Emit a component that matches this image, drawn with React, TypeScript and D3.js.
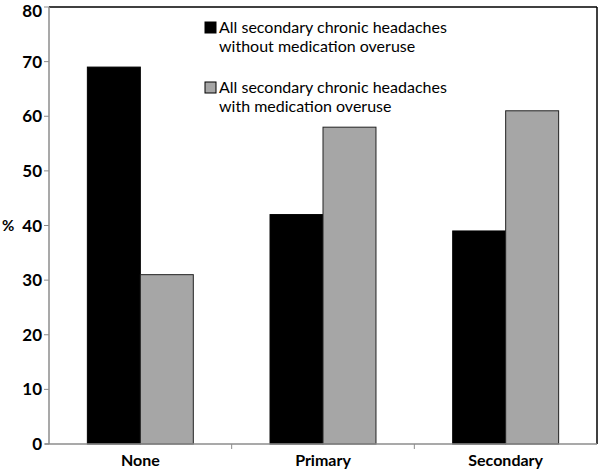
import { useMemo } from 'react';
import * as d3 from 'd3';

const categories = ['None', 'Primary', 'Secondary'];
const withoutOveruse = [69, 42, 39];
const withOveruse = [31, 58, 61];
const seriesLabels = [
  ['All secondary chronic headaches', 'without medication overuse'],
  ['All secondary chronic headaches', 'with medication overuse'],
];
const seriesColors = ['#000000', '#a6a6a6'];
const yTicks = [0, 10, 20, 30, 40, 50, 60, 70, 80];

const W = 600;
const H = 469;
const margin = { top: 7, right: 3, bottom: 25, left: 49 };

export default function App() {
  const { x, y } = useMemo(() => {
    const x = d3
      .scaleBand<string>()
      .domain(categories)
      .range([margin.left, W - margin.right])
      .paddingInner(0)
      .paddingOuter(0);
    const y = d3.scaleLinear().domain([0, 80]).range([H - margin.bottom, margin.top]);
    return { x, y };
  }, []);

  const bw = x.bandwidth() * 0.29;
  const font = 'Lato, "Open Sans", sans-serif';

  return (
    <svg
      width={W}
      height={H}
      style={{ display: 'block', position: 'absolute', left: 0, top: 0, background: '#fff' }}
    >
      {/* bars */}
      {categories.map((c, i) => {
        const cx = (x(c) ?? 0) + x.bandwidth() / 2;
        return (
          <g key={c}>
            <rect
              x={cx - bw}
              y={y(withoutOveruse[i])}
              width={bw}
              height={y(0) - y(withoutOveruse[i])}
              fill={seriesColors[0]}
              stroke="#000"
              strokeWidth={1}
            />
            <rect
              x={cx}
              y={y(withOveruse[i])}
              width={bw}
              height={y(0) - y(withOveruse[i])}
              fill={seriesColors[1]}
              stroke="#222"
              strokeWidth={1}
            />
          </g>
        );
      })}

      {/* frame: top + right black, left + bottom gray axes */}
      <line x1={margin.left} x2={W - margin.right} y1={y(80)} y2={y(80)} stroke="#000" strokeWidth={1.5} />
      <line x1={W - margin.right} x2={W - margin.right} y1={y(80)} y2={y(0)} stroke="#000" strokeWidth={1.5} />
      <line x1={margin.left} x2={margin.left} y1={y(80)} y2={y(0)} stroke="#8c8c8c" strokeWidth={1.5} />
      <line x1={margin.left - 4} x2={W - margin.right} y1={y(0)} y2={y(0)} stroke="#8c8c8c" strokeWidth={1.5} />

      {/* y ticks */}
      {yTicks.map((t) => (
        <g key={t}>
          <line x1={margin.left - 5} x2={margin.left} y1={y(t)} y2={y(t)} stroke="#8c8c8c" strokeWidth={1} />
          <text
            x={margin.left - 7}
            y={Math.max(y(t) + 6, 17)}
            textAnchor="end"
            fontFamily={font}
            fontWeight="bold"
            fontSize={17}
            fill="#000"
          >
            {t}
          </text>
        </g>
      ))}
      {categories.map((c, i) =>
        i === 0 ? null : (
          <line
            key={c}
            x1={x(c) ?? 0}
            x2={x(c) ?? 0}
            y1={y(0)}
            y2={y(0) + 5}
            stroke="#8c8c8c"
            strokeWidth={1}
          />
        ),
      )}
      <text x={2} y={y(40)} dy="0.35em" fontFamily={font} fontWeight="bold" fontSize={15} fill="#000">
        %
      </text>

      {/* x labels */}
      {categories.map((c) => (
        <text
          key={c}
          x={(x(c) ?? 0) + x.bandwidth() / 2}
          y={H - 3}
          textAnchor="middle"
          fontFamily={font}
          fontWeight="bold"
          fontSize={16}
          fill="#000"
        >
          {c}
        </text>
      ))}

      {/* legend */}
      {seriesLabels.map((lines, i) => (
        <g key={i} transform={`translate(205, ${22 + i * 60})`}>
          <rect x={0} y={0} width={11} height={11} fill={seriesColors[i]} stroke="#000" strokeWidth={1} />
          {lines.map((ln, j) => (
            <text key={j} x={14} y={11 + j * 19} fontFamily={font} fontSize={16} fill="#000">
              {ln}
            </text>
          ))}
        </g>
      ))}
    </svg>
  );
}
